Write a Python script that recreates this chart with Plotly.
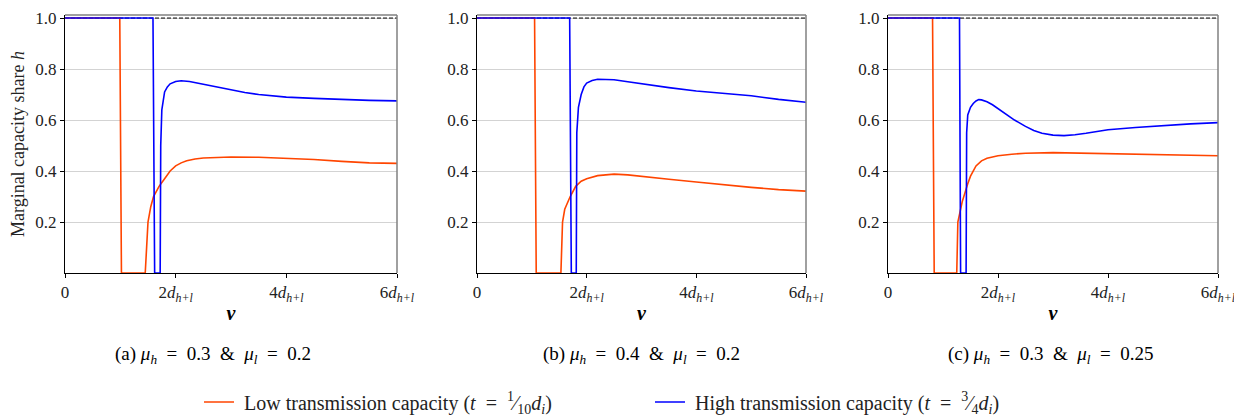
import plotly.graph_objects as go

# panel (a): mu_h = 0.3, mu_l = 0.2
a_low_x = [0, 0.99, 1.02, 1.45, 1.5, 1.55, 1.6, 1.7, 1.8, 1.9, 2.0, 2.1, 2.2, 2.35, 2.5, 2.75, 3.0, 3.5, 4.0, 4.5, 5.0, 5.5, 6.0]
a_low_y = [1, 1, 0, 0, 0.2, 0.26, 0.3, 0.34, 0.37, 0.4, 0.42, 0.432, 0.44, 0.447, 0.451, 0.454, 0.455, 0.454, 0.45, 0.445, 0.438, 0.432, 0.43]
a_high_x = [0, 1.59, 1.62, 1.72, 1.73, 1.75, 1.8, 1.85, 1.9, 2.0, 2.1, 2.25, 2.5, 2.75, 3.0, 3.25, 3.5, 3.75, 4.0, 4.5, 5.0, 5.5, 6.0]
a_high_y = [1, 1, 0, 0, 0.5, 0.64, 0.71, 0.73, 0.742, 0.751, 0.754, 0.751, 0.74, 0.729, 0.718, 0.708, 0.70, 0.694, 0.69, 0.685, 0.68, 0.677, 0.675]

# panel (b): mu_h = 0.4, mu_l = 0.2
b_low_x = [0, 1.05, 1.08, 1.53, 1.56, 1.6, 1.7, 1.8, 1.9, 2.0, 2.2, 2.5, 2.75, 3.0, 3.5, 4.0, 4.5, 5.0, 5.5, 6.0]
b_low_y = [1, 1, 0, 0, 0.2, 0.25, 0.3, 0.34, 0.36, 0.37, 0.382, 0.388, 0.385, 0.38, 0.368, 0.357, 0.346, 0.336, 0.327, 0.321]
b_high_x = [0, 1.69, 1.72, 1.81, 1.82, 1.85, 1.9, 1.95, 2.0, 2.1, 2.2, 2.5, 2.75, 3.0, 3.5, 4.0, 4.5, 5.0, 5.5, 6.0]
b_high_y = [1, 1, 0, 0, 0.55, 0.65, 0.7, 0.73, 0.745, 0.755, 0.76, 0.758, 0.75, 0.742, 0.727, 0.714, 0.704, 0.695, 0.681, 0.67]

# panel (c): mu_h = 0.3, mu_l = 0.25
c_low_x = [0, 0.81, 0.84, 1.25, 1.27, 1.35, 1.45, 1.5, 1.6, 1.7, 1.8, 2.0, 2.25, 2.5, 3.0, 3.5, 4.0, 4.5, 5.0, 5.5, 6.0]
c_low_y = [1, 1, 0, 0, 0.2, 0.28, 0.35, 0.38, 0.42, 0.44, 0.45, 0.46, 0.466, 0.47, 0.472, 0.47, 0.467, 0.466, 0.462, 0.46, 0.46]
c_high_x = [0, 1.30, 1.32, 1.42, 1.43, 1.45, 1.5, 1.55, 1.6, 1.65, 1.7, 1.8, 1.9, 2.0, 2.15, 2.3, 2.5, 2.65, 2.8, 3.0, 3.2, 3.4, 3.6, 3.8, 4.0, 4.5, 5.0, 5.5, 6.0]
c_high_y = [1, 1, 0, 0, 0.55, 0.62, 0.65, 0.665, 0.675, 0.68, 0.679, 0.672, 0.66, 0.645, 0.622, 0.6, 0.575, 0.559, 0.548, 0.541, 0.539, 0.542, 0.548, 0.555, 0.562, 0.571, 0.579, 0.585, 0.59]

S = "\u00a0"
S2 = S + S
captions = [f"(a){S}<i>μ<sub>h</sub></i>{S2}={S2}0.3{S2}&{S2}<i>μ<sub>l</sub></i>{S2}={S2}0.2",
            f"(b){S}<i>μ<sub>h</sub></i>{S2}={S2}0.4{S2}&{S2}<i>μ<sub>l</sub></i>{S2}={S2}0.2",
            f"(c){S}<i>μ<sub>h</sub></i>{S2}={S2}0.3{S2}&{S2}<i>μ<sub>l</sub></i>{S2}={S2}0.25"]
x_ticks = [0, 2, 4, 6]
x_ticklabels = ["0", "2<i>d<sub>h+l</sub></i>", "4<i>d<sub>h+l</sub></i>", "6<i>d<sub>h+l</sub></i>"]
y_ticks = [0.2, 0.4, 0.6, 0.8, 1.0]
y_ticklabels = ["0.2", "0.4", "0.6", "0.8", "1.0"]
low_name = f"{S}Low transmission capacity (<i>t</i>{S2}={S2}<sup>1</sup>⁄<sub>10</sub><i>d<sub>i</sub></i>)"
high_name = f"{S}High transmission capacity (<i>t</i>{S2}={S2}<sup>3</sup>⁄<sub>4</sub><i>d<sub>i</sub></i>)"

ORANGE = "#ff4500"
BLUE = "#0000ff"
FONT = "Times New Roman, Liberation Serif, Tinos, DejaVu Serif"
OFF = 8  # page body margin
W, H = 1242 - OFF, 417 - OFF

panels = [(a_low_x, a_low_y, a_high_x, a_high_y),
          (b_low_x, b_low_y, b_high_x, b_high_y),
          (c_low_x, c_low_y, c_high_x, c_high_y)]
x_px = [(65, 397), (477, 806), (888, 1218)]
cap_px = [213, 641, 1051]


def px(v):
    return (v - OFF) / W


def py(v):
    return 1 - (v - OFF) / H


y_dom = [py(273), py(15)]

fig = go.Figure()
for i, (lx, ly, hx, hy) in enumerate(panels):
    n = "" if i == 0 else str(i + 1)
    xa, ya = "x" + n, "y" + n
    # dashed reference line at h = 1
    fig.add_trace(go.Scatter(x=[0, 6], y=[1, 1], mode="lines", xaxis=xa, yaxis=ya,
                             line=dict(color="black", width=1, dash="4px,2px"), showlegend=False))
    fig.add_trace(go.Scatter(x=lx, y=ly, mode="lines", xaxis=xa, yaxis=ya, name=low_name,
                             line=dict(color=ORANGE, width=1.6), showlegend=(i == 0)))
    fig.add_trace(go.Scatter(x=hx, y=hy, mode="lines", xaxis=xa, yaxis=ya, name=high_name,
                             line=dict(color=BLUE, width=1.6), showlegend=(i == 0)))

    x0, x1 = x_px[i]
    fig.layout["xaxis" + n] = dict(
        domain=[px(x0), px(x1)], anchor=ya, range=[0, 6], tickvals=x_ticks, ticktext=x_ticklabels,
        showgrid=False, zeroline=False, showline=True, linecolor="black", linewidth=1,
        ticks="outside", ticklen=4, tickcolor="black", automargin=False, ticklabeloverflow="allow",
        tickfont=dict(size=17, family=FONT, color="#222"),
        title=dict(text="<b><i>v</i></b>", font=dict(size=20, family=FONT, color="black"), standoff=2),
    )
    fig.layout["yaxis" + n] = dict(
        domain=y_dom, anchor=xa, range=[0, 1.012], tickvals=y_ticks, ticktext=y_ticklabels,
        showgrid=True, gridcolor="#d3d3d3", gridwidth=1, zeroline=False, automargin=False,
        showline=True, linecolor="black", linewidth=1, ticks="outside", ticklen=4, tickcolor="black",
        tickfont=dict(size=17, family=FONT, color="#222"),
    )
    # gray top and right spines
    fig.add_shape(type="line", xref=xa + " domain", yref=ya + " domain", x0=0, x1=1, y0=1, y1=1,
                  line=dict(color="#808080", width=1.5))
    fig.add_shape(type="line", xref=xa + " domain", yref=ya + " domain", x0=1, x1=1, y0=0, y1=1,
                  line=dict(color="#808080", width=1.5))
    fig.add_annotation(text=captions[i], xref="paper", yref="paper", x=px(cap_px[i]), y=py(355),
                       xanchor="center", yanchor="middle", showarrow=False,
                       font=dict(size=19, family=FONT, color="black"))

fig.layout["yaxis"]["title"] = dict(text="Marginal capacity share <i>h</i>",
                                    font=dict(size=18, family=FONT, color="#222"), standoff=6)

fig.update_layout(
    width=W, height=H,
    margin=dict(l=0, r=0, t=0, b=0, autoexpand=False),
    plot_bgcolor="white", paper_bgcolor="white",
    font=dict(family=FONT, size=17, color="#222"),
    legend=dict(orientation="h", x=px(650), xanchor="center", y=py(402), yanchor="middle",
                font=dict(size=20, family=FONT, color="#222"), tracegroupgap=0,
                entrywidth=406),
)

fig.write_html("out.html")
